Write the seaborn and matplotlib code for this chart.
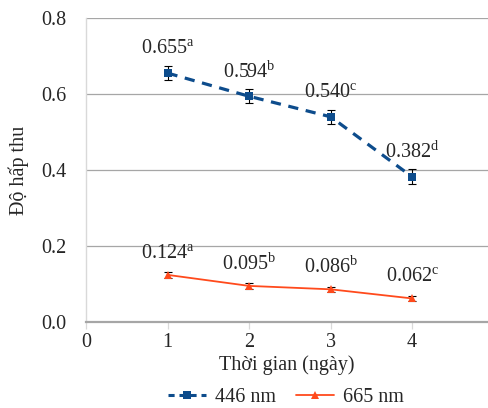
import matplotlib
matplotlib.use("Agg")
import matplotlib.pyplot as plt
import seaborn as sns
import pandas as pd
from matplotlib.lines import Line2D

days = [1, 2, 3, 4]
abs_446 = [0.655, 0.594, 0.540, 0.382]
abs_665 = [0.124, 0.095, 0.086, 0.062]
err_446 = [0.018, 0.018, 0.018, 0.020]
err_665 = [0.008, 0.008, 0.006, 0.006]
sig_446 = ["a", "b", "c", "d"]
sig_665 = ["a", "b", "b", "c"]
series_names = ["446 nm", "665 nm"]

sns.set_theme(style="white")
plt.rcParams["font.family"] = ["Liberation Serif", "DejaVu Serif"]
plt.rcParams["mathtext.fontset"] = "custom"
plt.rcParams["mathtext.rm"] = "Liberation Serif"

FS = 14.5
blue = "#0D4C8C"
red = "#FF4A1C"

df = pd.DataFrame({
    "day": days * 2,
    "value": abs_446 + abs_665,
    "series": [series_names[0]] * 4 + [series_names[1]] * 4,
})

fig = plt.figure(figsize=(4.88, 4.08), dpi=100)
ax = fig.add_axes([86 / 488, 1 - 322 / 408, (488 - 86) / 488, (322 - 18) / 408])

sns.lineplot(data=df, x="day", y="value", hue="series", style="series",
             palette=[blue, red], markers=["s", "^"],
             dashes=[(3.2, 2.4), ""], ax=ax, legend=False)
lines = ax.get_lines()
lines[0].set_linewidth(2.3)
lines[0].set_markersize(6)
lines[1].set_linewidth(1.3)
lines[1].set_markersize(6)
for ln in lines:
    ln.set_markeredgewidth(0)

ax.errorbar(days, abs_446, yerr=err_446, fmt="none", ecolor="black",
            elinewidth=0.8, capsize=3, capthick=0.8, zorder=1)
ax.errorbar(days, abs_665, yerr=err_665, fmt="none", ecolor="black",
            elinewidth=0.8, capsize=3, capthick=0.8, zorder=1)

for x, v, s in zip(days, abs_446, sig_446):
    ax.annotate(f"{v:.3f}$^{{\\mathrm{{{s}}}}}$", (x, v), xytext=(0, 10),
                textcoords="offset points", ha="center", va="bottom", fontsize=FS)
for x, v, s in zip(days, abs_665, sig_665):
    ax.annotate(f"{v:.3f}$^{{\\mathrm{{{s}}}}}$", (x, v), xytext=(0, 8),
                textcoords="offset points", ha="center", va="bottom", fontsize=FS)

ax.set_xlim(0, 4.93)
ax.set_ylim(0, 0.8)
ax.set_xticks([0, 1, 2, 3, 4])
ax.set_yticks([0.0, 0.2, 0.4, 0.6, 0.8])
ax.set_yticklabels(["0.0", "0.2", "0.4", "0.6", "0.8"])
ax.grid(axis="y", color="#A6A6A6", linewidth=0.9)
ax.set_axisbelow(True)
for side in ["top", "right"]:
    ax.spines[side].set_visible(False)
ax.spines["left"].set_color("#D9D9D9")
ax.spines["left"].set_linewidth(1.0)
ax.spines["bottom"].set_color("#A6A6A6")
ax.spines["bottom"].set_linewidth(1.6)
ax.tick_params(axis="x", bottom=True, length=5, width=0.9, color="#D9D9D9",
               labelsize=FS, pad=3)
ax.tick_params(axis="y", left=False, labelsize=FS, pad=8)

ax.set_xlabel("Thời gian (ngày)", fontsize=FS, labelpad=2)
ax.set_ylabel("Độ hấp thu", fontsize=FS, labelpad=9)

handles = [
    Line2D([], [], color=blue, linestyle=(0, (2.0, 1.6)), linewidth=2.2,
           marker="s", markersize=6, markeredgewidth=0),
    Line2D([], [], color=red, linewidth=1.3, marker="^", markersize=6,
           markeredgewidth=0),
]
fig.legend(handles, series_names, loc="center", bbox_to_anchor=(0.586, 1 - 397 / 408),
           ncol=2, frameon=False, fontsize=FS, handlelength=1.9,
           columnspacing=1.0, handletextpad=0.45)

fig.savefig("out.png", dpi=100)
